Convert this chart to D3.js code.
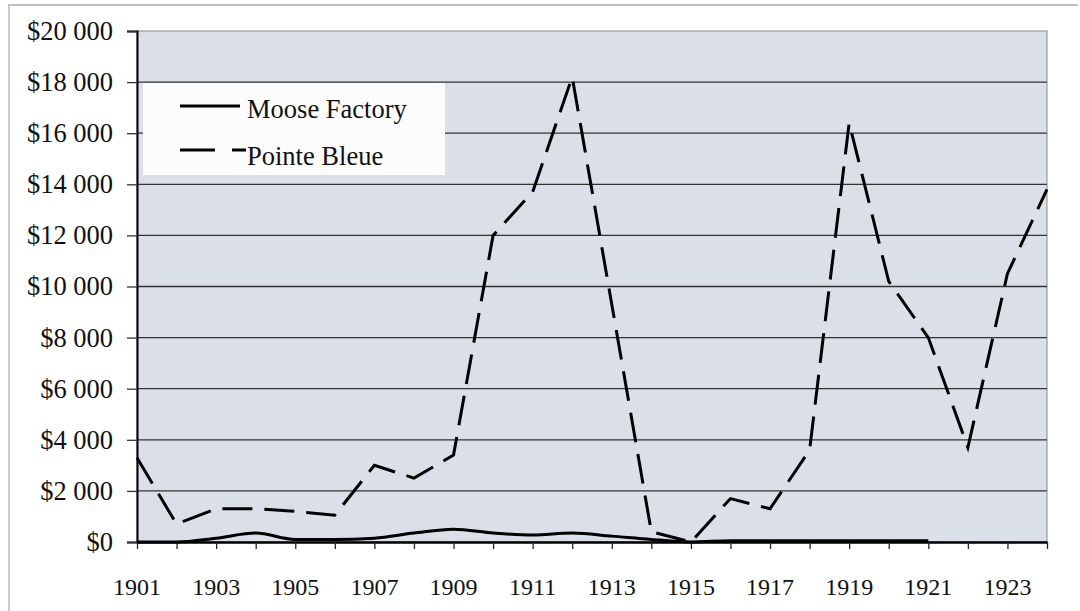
<!DOCTYPE html>
<html>
<head>
<meta charset="utf-8">
<script src="https://cdn.jsdelivr.net/npm/d3@7"></script>
<style>
  body { margin: 0; background: #fff; }
</style>
</head>
<body>
<div id="chart"></div>
<script>
// years on the x axis
const years = d3.range(1901, 1925);
const yearTicks = [1901, 1903, 1905, 1907, 1909, 1911, 1913, 1915, 1917, 1919, 1921, 1923];
const yTicks = [0, 2000, 4000, 6000, 8000, 10000, 12000, 14000, 16000, 18000, 20000];

// Moose Factory stops at 1921
const mooseFactory = [0, 0, 150, 350, 100, 100, 150, 350, 500, 350, 270, 350, 230, 100, 0, 50, 50, 50, 50, 50, 50];
const pointeBleue = [3300, 700, 1300, 1300, 1200, 1050, 3000, 2500, 3400, 12000, 13700, 18200, 9300, 400, 0, 1700, 1300, 3600, 16400, 10200, 8000, 3700, 10500, 13800];

const seriesNames = ["Moose Factory", "Pointe Bleue"];

const serif = "'Liberation Serif', 'Times New Roman', 'DejaVu Serif', serif";

const width = 1080, height = 611;
const margin = { top: 31, right: 33, bottom: 69, left: 137 };

const svg = d3.select("#chart").append("svg")
  .attr("width", width)
  .attr("height", height);

// faint frame round the whole figure
svg.append("line").attr("x1", 8).attr("x2", 1078).attr("y1", 5).attr("y2", 5)
  .attr("stroke", "#aaa").attr("stroke-width", 1.5);
svg.append("line").attr("x1", 9).attr("x2", 9).attr("y1", 5).attr("y2", 611)
  .attr("stroke", "#bbb").attr("stroke-width", 1.5);

const x = d3.scaleLinear()
  .domain([1901, 1924])
  .range([margin.left, width - margin.right]);

const y = d3.scaleLinear()
  .domain([0, 20000])
  .range([height - margin.bottom, margin.top]);

// plot background
svg.append("rect")
  .attr("x", x(1901)).attr("y", y(20000))
  .attr("width", x(1924) - x(1901))
  .attr("height", y(0) - y(20000))
  .attr("fill", "#dadfe8")
  .attr("stroke", "#888")
  .attr("stroke-width", 1);

// gridlines
svg.append("g")
  .selectAll("line")
  .data(yTicks.filter((d) => d > 0 && d < 20000))
  .enter()
  .append("line")
  .attr("x1", x(1901)).attr("x2", x(1924))
  .attr("y1", (d) => y(d)).attr("y2", (d) => y(d))
  .attr("stroke", "#333")
  .attr("stroke-width", 1.3);

const locale = d3.formatLocale({ decimal: ".", thousands: " ", grouping: [3], currency: ["$", ""] });
const money = locale.format("$,");

// y axis
const yAxis = svg.append("g")
  .attr("transform", `translate(${x(1901)},0)`)
  .call(d3.axisLeft(y).tickValues(yTicks).tickFormat(money).tickSize(10).tickPadding(14));
yAxis.select(".domain").attr("stroke", "#000").attr("stroke-width", 2);
yAxis.selectAll(".tick line").attr("stroke", "#333").attr("stroke-width", 1.3);
yAxis.selectAll("text")
  .style("font-family", serif)
  .style("font-size", "26.5px")
  .attr("fill", "#111");

// x axis
const xAxis = svg.append("g")
  .attr("transform", `translate(0,${y(0)})`)
  .call(d3.axisBottom(x).tickValues(years).tickFormat("").tickSize(7).tickSizeOuter(0));
xAxis.select(".domain").attr("stroke", "#000").attr("stroke-width", 2.5);
xAxis.selectAll(".tick line").attr("stroke", "#222").attr("stroke-width", 1.3);

svg.append("g")
  .selectAll("text")
  .data(yearTicks)
  .enter()
  .append("text")
  .attr("x", (d) => x(d))
  .attr("y", 595)
  .attr("text-anchor", "middle")
  .style("font-family", serif)
  .style("font-size", "24px")
  .attr("fill", "#111")
  .text((d) => d);

// series
const mooseLine = d3.line()
  .x((d, i) => x(years[i]))
  .y((d) => y(d))
  .curve(d3.curveMonotoneX);

const bleueLine = d3.line()
  .x((d, i) => x(years[i]))
  .y((d) => y(d));

svg.append("path")
  .datum(mooseFactory)
  .attr("d", mooseLine)
  .attr("fill", "none")
  .attr("stroke", "#000")
  .attr("stroke-width", 3);

svg.append("path")
  .datum(pointeBleue)
  .attr("d", bleueLine)
  .attr("fill", "none")
  .attr("stroke", "#000")
  .attr("stroke-width", 3)
  .attr("stroke-dasharray", "30,12");

// legend
const legend = svg.append("g");
legend.append("rect")
  .attr("x", 143).attr("y", 83)
  .attr("width", 302).attr("height", 92)
  .attr("fill", "#fcfcfc");

const dashes = [null, "35,17"];
seriesNames.forEach((name, i) => {
  const ly = 106 + i * 44;
  legend.append("line")
    .attr("x1", 180).attr("x2", i ? 246 : 240)
    .attr("y1", ly).attr("y2", ly)
    .attr("stroke", "#000")
    .attr("stroke-width", 3)
    .attr("stroke-dasharray", dashes[i]);
  legend.append("text")
    .attr("x", 247)
    .attr("y", ly + 12 + i * 3)
    .style("font-family", serif)
    .style("font-size", "26.5px")
    .attr("fill", "#111")
    .text(name);
});
</script>
</body>
</html>
